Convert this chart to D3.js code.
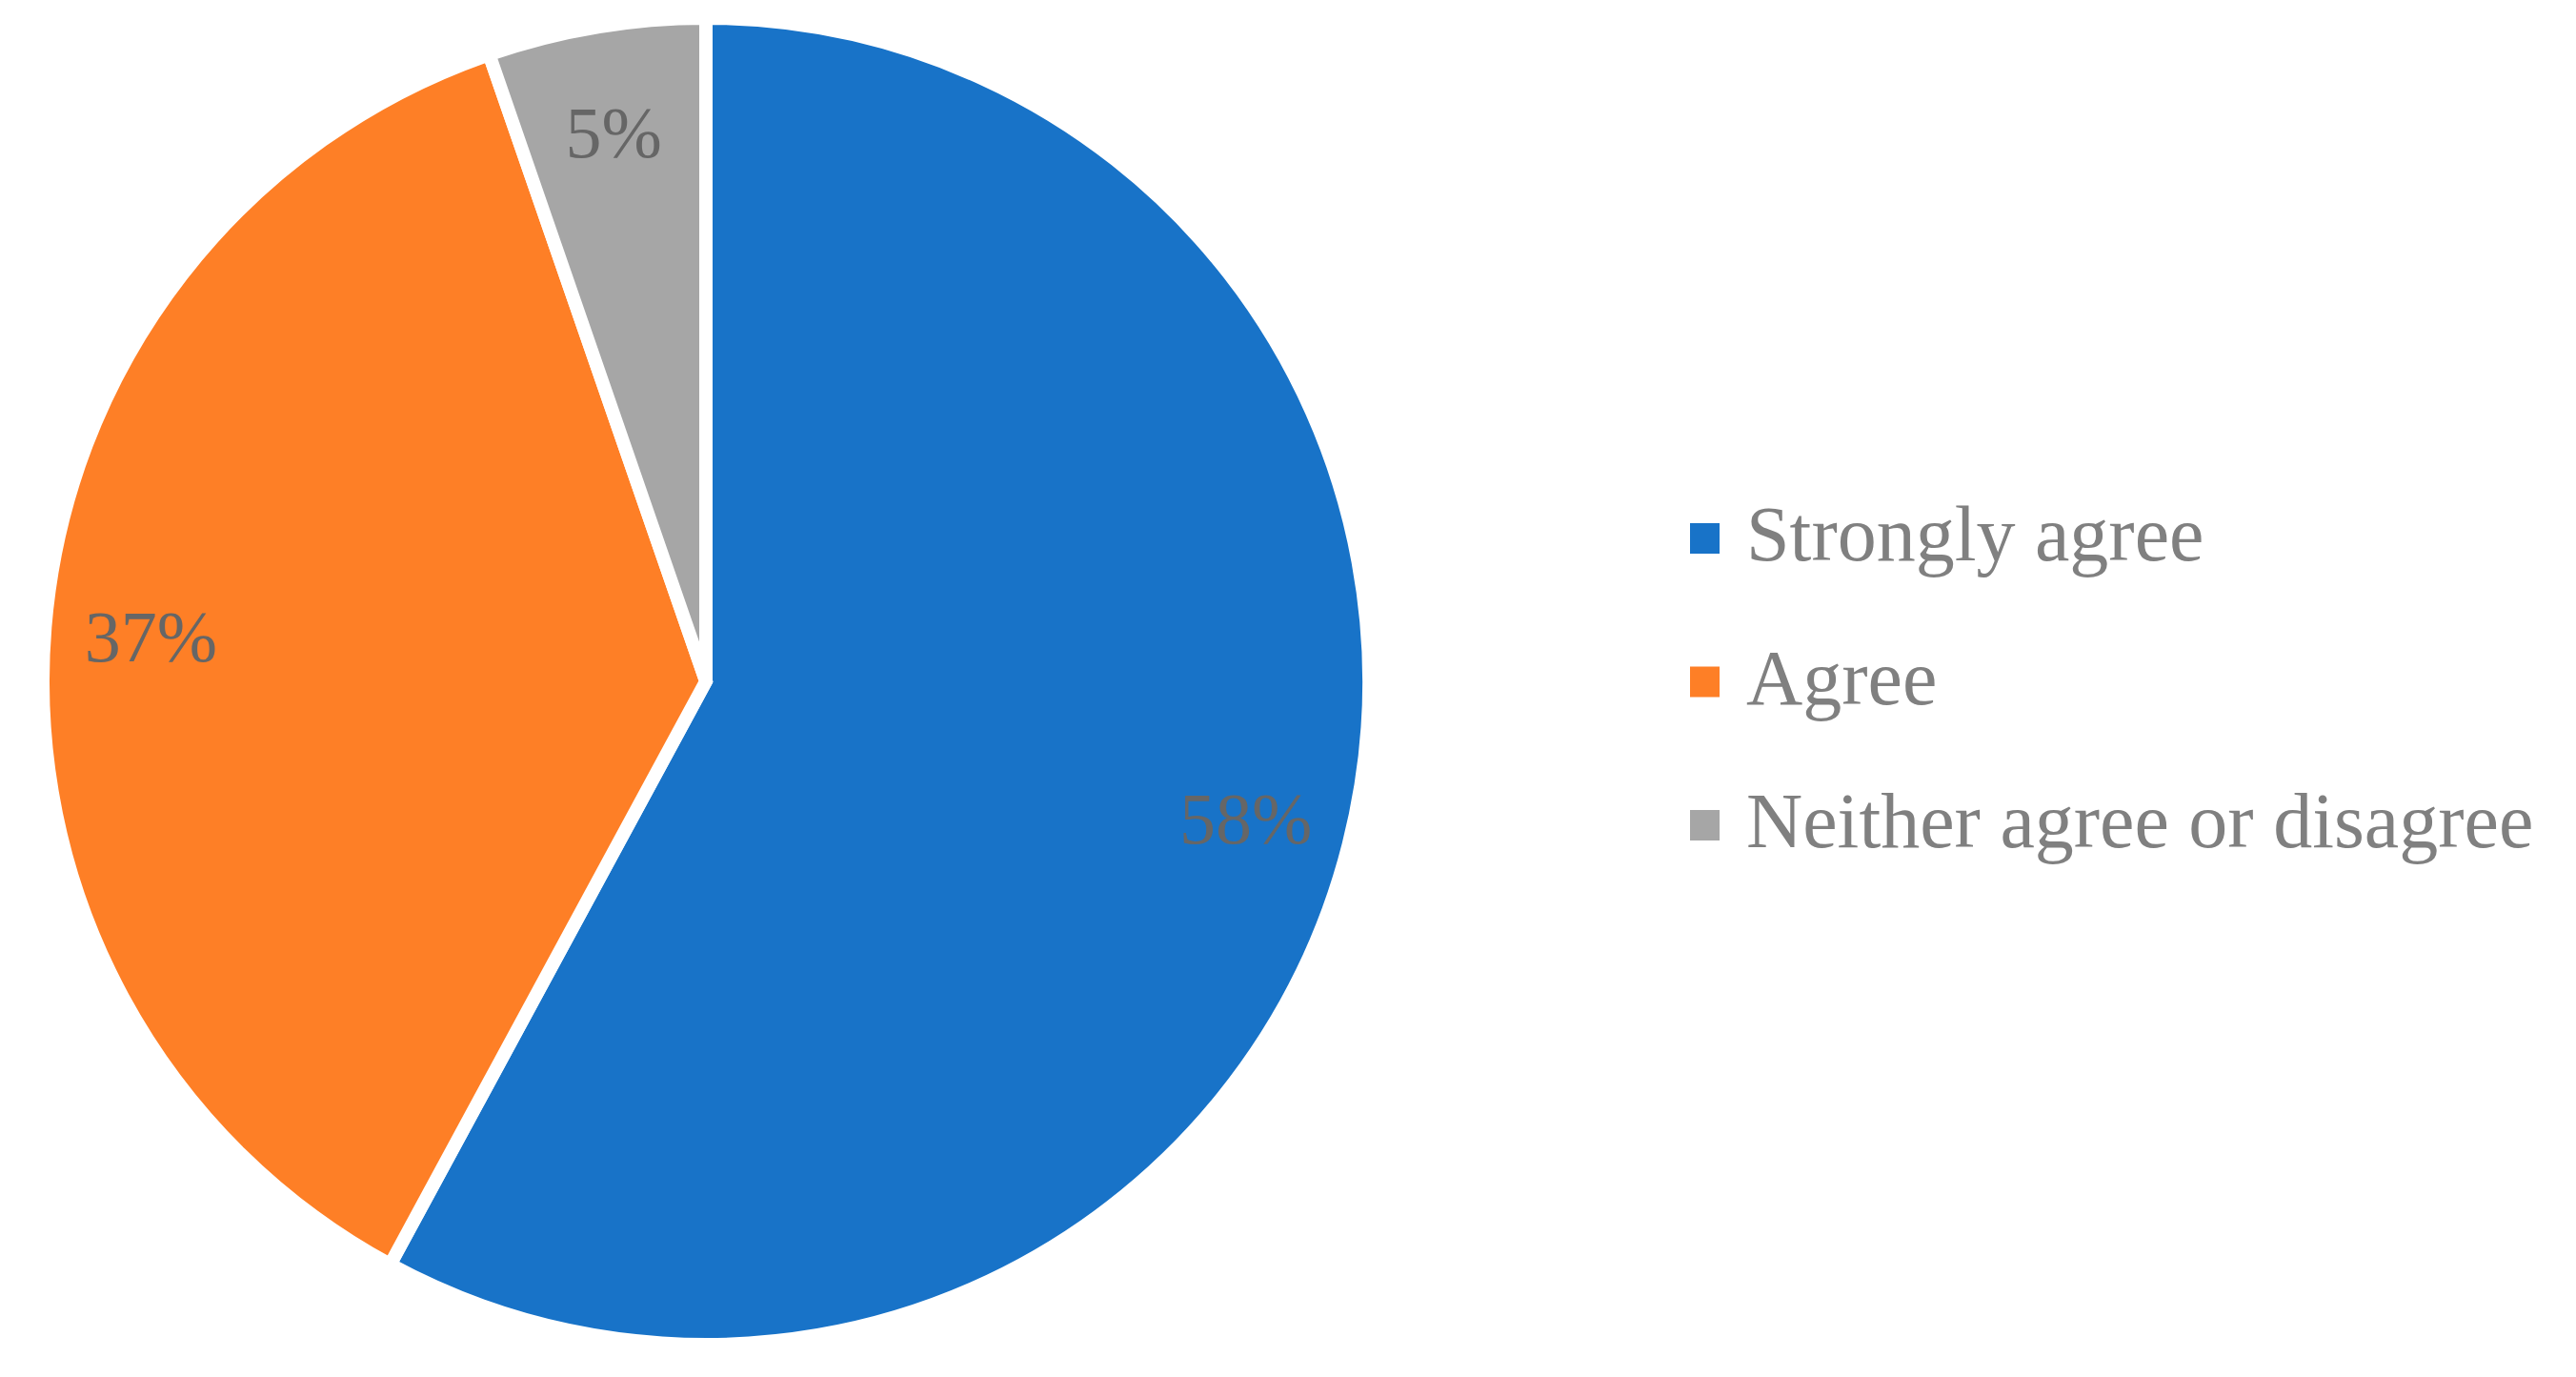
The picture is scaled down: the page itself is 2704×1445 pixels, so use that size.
<!doctype html>
<html>

<head>
  <meta charset="UTF-8" />
  <title>Agreement</title>
  <style>
    html,
    body {
      margin: 0;
      background: #fff;
    }

    svg {
      display: block;
      font-family: "Liberation Serif", "DejaVu Serif", serif;
    }

    .slice path {
      stroke: #fff;
      stroke-width: 14px;
      stroke-linejoin: miter;
    }

    .slice text {
      fill: #666;
      font-size: 76px;
      text-anchor: middle;
    }

    .legend text {
      fill: #808080;
      font-size: 82px;
    }
  </style>
</head>

<body>
  <script src="https://cdn.jsdelivr.net/npm/d3@7"></script>
  <script>
    // data
    const categories = ['Strongly agree', 'Agree', 'Neither agree or disagree'];
    const values = [57.9, 36.8, 5.3];
    const colors = ['#1873c8', '#fe7f26', '#a6a6a6'];

    const width = 2704,
      height = 1445;
    const cx = 741,
      cy = 715,
      radius = 696;

    const svg = d3.select('body').append('svg')
      .attr('width', width)
      .attr('height', height);

    const color = d3.scaleOrdinal(categories, colors);

    const pie = d3.pie()
      .sort(null)
      .value(d => d.value);

    const rows = categories.map((c, i) => ({ name: c, value: values[i] }));

    const arc = d3.arc()
      .innerRadius(0)
      .outerRadius(radius);

    const labelArc = d3.arc()
      .innerRadius(radius * 0.84)
      .outerRadius(radius * 0.84);

    const g = svg.append('g')
      .attr('transform', `translate(${cx},${cy})`);

    const slice = g.selectAll('g.slice')
      .data(pie(rows))
      .join('g')
      .attr('class', 'slice');

    slice.append('path')
      .attr('d', arc)
      .style('fill', d => color(d.data.name));

    slice.append('text')
      .attr('transform', d => `translate(${labelArc.centroid(d)})`)
      .attr('dy', '0.35em')
      .text(d => d3.format('.0%')(d.data.value / d3.sum(values)));

    // legend
    const y = d3.scalePoint()
      .domain(categories)
      .range([565, 866]);

    const legend = svg.append('g')
      .attr('class', 'legend')
      .selectAll('g')
      .data(categories)
      .join('g')
      .attr('transform', d => `translate(1774,${y(d)})`);

    legend.append('rect')
      .attr('x', 0)
      .attr('y', -16)
      .attr('width', 31)
      .attr('height', 32)
      .style('fill', d => color(d));

    legend.append('text')
      .attr('x', 59)
      .attr('y', 23)
      .text(d => d);
  </script>
</body>

</html>
